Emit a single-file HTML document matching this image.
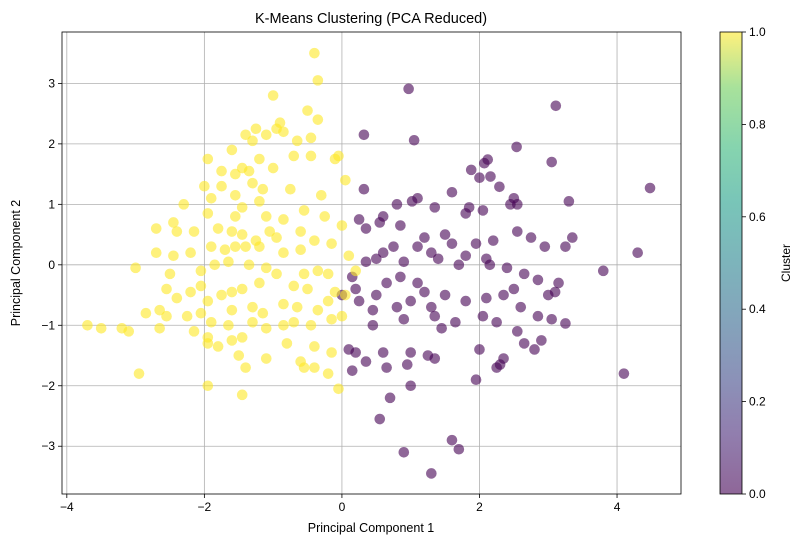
<!DOCTYPE html>
<html><head><meta charset="utf-8"><style>
body{margin:0;background:#fff;}
svg{font-family:"Liberation Sans","DejaVu Sans",sans-serif;}
</style></head><body>
<svg id="chart" width="802" height="547" xmlns="http://www.w3.org/2000/svg">
<defs><linearGradient id="vir" x1="0" y1="1" x2="0" y2="0">
<stop offset="0" stop-color="#440154"/><stop offset="0.13" stop-color="#482878"/><stop offset="0.25" stop-color="#3e4989"/><stop offset="0.38" stop-color="#31688e"/><stop offset="0.5" stop-color="#26828e"/><stop offset="0.63" stop-color="#1f9e89"/><stop offset="0.75" stop-color="#35b779"/><stop offset="0.88" stop-color="#6ece58"/><stop offset="1" stop-color="#fde725"/></linearGradient></defs>
<text x="371" y="23" font-size="14.5" text-anchor="middle">K-Means Clustering (PCA Reduced)</text>
<g id="grid"></g><g id="pts"></g><g id="axes"></g>
<text x="371" y="532" font-size="12.5" text-anchor="middle">Principal Component 1</text>
<text transform="translate(20,263) rotate(-90)" font-size="12.5" text-anchor="middle">Principal Component 2</text>
<rect x="720" y="32" width="22" height="462" fill="url(#vir)" opacity="0.6"/>
<rect x="720" y="32" width="22" height="462" fill="none" stroke="#000" stroke-width="0.8"/>
<g id="cb"></g>
<text transform="translate(790,263) rotate(-90)" font-size="12" text-anchor="middle">Cluster</text>
</svg>
<script>
const clusters=[0,1];
const xTicks=[-4,-2,0,2,4];
const yTicks=[-3,-2,-1,0,1,2,3];
const cbTicks=[0.0,0.2,0.4,0.6,0.8,1.0];
const purplePts=[[0.97,2.91],[3.11,2.63],[0.32,2.15],[1.05,2.06],[2.54,1.95],[2.12,1.74],[2.07,1.68],[1.88,1.57],[2.16,1.46],[2.0,1.44],[2.29,1.29],[3.05,1.70],[4.48,1.27],[3.3,1.05],[0.32,1.25],[1.1,1.1],[1.02,1.05],[0.8,1.0],[1.6,1.2],[1.85,0.95],[2.5,1.1],[2.45,1.0],[2.55,1.0],[1.8,0.85],[2.05,0.9],[1.35,0.95],[0.6,0.8],[0.55,0.7],[0.85,0.65],[1.2,0.45],[0.35,0.6],[0.25,0.75],[0.75,0.3],[1.1,0.3],[1.5,0.5],[1.95,0.35],[2.2,0.4],[2.55,0.55],[2.75,0.45],[2.95,0.3],[3.35,0.45],[3.25,0.3],[1.3,0.2],[0.6,0.2],[0.35,0.05],[0.5,0.1],[0.9,0.05],[1.7,0.0],[1.8,0.15],[2.1,0.1],[2.15,0.0],[1.6,0.35],[1.4,0.1],[2.4,-0.05],[2.65,-0.15],[2.85,-0.25],[3.0,-0.5],[3.1,-0.45],[3.15,-0.3],[2.5,-0.4],[2.35,-0.5],[2.1,-0.55],[2.6,-0.7],[2.05,-0.85],[1.8,-0.6],[1.5,-0.5],[1.3,-0.7],[1.0,-0.6],[0.8,-0.7],[0.5,-0.5],[0.25,-0.6],[0.45,-0.75],[0.65,-0.3],[0.85,-0.2],[1.1,-0.3],[1.2,-0.45],[0.2,-0.4],[0.0,-0.5],[0.15,-0.2],[0.45,-1.0],[0.9,-0.9],[1.35,-0.85],[1.45,-1.05],[1.65,-0.95],[2.25,-0.95],[2.55,-1.1],[2.85,-0.85],[3.05,-0.9],[3.25,-0.97],[2.65,-1.3],[2.8,-1.4],[2.9,-1.25],[1.35,-1.55],[0.6,-1.45],[0.65,-1.7],[0.2,-1.45],[0.35,-1.6],[0.15,-1.75],[1.0,-1.45],[1.25,-1.5],[2.0,-1.4],[2.35,-1.55],[2.3,-1.65],[2.25,-1.7],[1.95,-1.9],[0.95,-1.65],[0.7,-2.2],[0.55,-2.55],[1.0,-2.0],[1.6,-2.9],[1.7,-3.05],[0.9,-3.1],[1.3,-3.45],[3.8,-0.1],[4.3,0.2],[4.1,-1.8],[0.1,-1.4]];
const yellowPts=[[-0.4,3.5],[-0.35,3.05],[-1.0,2.8],[-0.5,2.55],[-0.35,2.4],[-0.9,2.35],[-0.95,2.25],[-0.85,2.2],[-1.25,2.25],[-1.1,2.15],[-1.3,2.05],[-1.4,2.15],[-0.65,2.05],[-0.45,2.1],[-1.95,1.75],[-1.6,1.9],[-1.2,1.75],[-0.45,1.8],[-0.7,1.8],[-0.1,1.75],[-0.05,1.8],[-1.45,1.6],[-1.35,1.55],[-1.55,1.5],[-1.75,1.55],[-1.0,1.6],[-1.3,1.35],[-1.75,1.3],[-1.15,1.25],[-2.0,1.3],[-1.9,1.1],[-1.55,1.15],[-1.2,1.05],[-0.75,1.25],[-0.3,1.15],[0.05,1.4],[-2.3,1.0],[-1.45,0.95],[-1.95,0.85],[-2.45,0.7],[-1.55,0.8],[-1.1,0.8],[-0.85,0.75],[-0.55,0.9],[-0.25,0.8],[0.0,0.65],[-2.7,0.6],[-2.4,0.55],[-2.15,0.55],[-1.8,0.6],[-1.6,0.55],[-1.45,0.5],[-1.25,0.4],[-1.05,0.55],[-0.95,0.45],[-0.6,0.55],[-0.4,0.4],[-0.15,0.35],[-2.7,0.2],[-2.45,0.15],[-2.2,0.2],[-1.9,0.3],[-1.7,0.25],[-1.55,0.3],[-1.4,0.3],[-1.2,0.3],[-0.85,0.2],[-0.6,0.25],[0.1,0.15],[-3.0,-0.05],[-2.5,-0.15],[-2.05,-0.1],[-1.85,0.0],[-1.65,0.05],[-1.35,0.0],[-1.1,-0.05],[-0.95,-0.15],[-0.55,-0.15],[-0.35,-0.1],[-0.2,-0.15],[0.2,-0.1],[-2.55,-0.4],[-2.2,-0.45],[-2.05,-0.35],[-1.95,-0.6],[-1.75,-0.5],[-1.6,-0.45],[-1.45,-0.4],[-1.2,-0.3],[-0.7,-0.35],[-0.5,-0.4],[-0.1,-0.45],[0.05,-0.5],[-2.4,-0.55],[-2.65,-0.75],[-2.85,-0.8],[-2.55,-0.85],[-2.25,-0.85],[-2.05,-0.8],[-1.9,-0.95],[-1.6,-0.75],[-1.3,-0.7],[-1.15,-0.8],[-0.85,-0.65],[-0.65,-0.7],[-0.35,-0.75],[-0.2,-0.6],[-3.7,-1.0],[-3.5,-1.05],[-3.2,-1.05],[-3.1,-1.1],[-2.65,-1.05],[-2.15,-1.1],[-1.95,-1.2],[-1.65,-1.0],[-1.3,-0.95],[-1.1,-1.05],[-0.85,-1.0],[-0.7,-0.95],[-0.45,-1.0],[-0.15,-0.9],[0.0,-0.85],[-1.95,-1.3],[-1.8,-1.35],[-1.6,-1.25],[-1.45,-1.2],[-0.8,-1.3],[-0.4,-1.35],[-0.15,-1.45],[-1.5,-1.5],[-1.1,-1.55],[-0.6,-1.6],[-0.4,-1.7],[-0.55,-1.7],[-1.4,-1.7],[-0.2,-1.8],[-2.95,-1.8],[-1.95,-2.0],[-1.45,-2.15],[-0.05,-2.05]];

const L=62,R=681,T=32,B=494;
const X0=-4.07,X1=4.93,Y0=-3.79,Y1=3.85;
const sx=v=>L+(v-X0)/(X1-X0)*(R-L);
const sy=v=>B-(v-Y0)/(Y1-Y0)*(B-T);
const cy=v=>B-v*(B-T);
const NS="http://www.w3.org/2000/svg";
function mk(tag,attrs,parent,txt){const e=document.createElementNS(NS,tag);for(const k in attrs)e.setAttribute(k,attrs[k]);if(txt!==undefined)e.textContent=txt;parent.appendChild(e);return e;}
const grid=document.getElementById('grid'),axes=document.getElementById('axes'),pts=document.getElementById('pts'),cb=document.getElementById('cb');
xTicks.forEach(t=>{const x=sx(t);
 const g=mk('line',{x1:x,x2:x,y1:T,y2:B,stroke:'#b0b0b0','stroke-width':0.8},grid);
 
 
 mk('line',{x1:x,x2:x,y1:B,y2:B+4,stroke:'#000','stroke-width':0.8},axes);
 const l=mk('text',{x:x,y:B+17,'font-size':12,'text-anchor':'middle'},axes,t<0?'−'+(-t):String(t));
 
 
});
yTicks.forEach(t=>{const y=sy(t);
 const g=mk('line',{x1:L,x2:R,y1:y,y2:y,stroke:'#b0b0b0','stroke-width':0.8},grid);
 
 
 mk('line',{x1:L-4,x2:L,y1:y,y2:y,stroke:'#000','stroke-width':0.8},axes);
 const l=mk('text',{x:L-7,y:y+4,'font-size':12,'text-anchor':'end'},axes,t<0?'−'+(-t):String(t));
 
 
});
const fr=mk('rect',{x:L,y:T,width:R-L,height:B-T,fill:'none',stroke:'#000','stroke-width':0.8},axes);


const colors=['#440154','#fde725'];
[purplePts,yellowPts].forEach((arr,i)=>{arr.forEach(p=>{
 const c=mk('circle',{cx:sx(p[0]),cy:sy(p[1]),r:5.3,fill:colors[clusters[i]],'fill-opacity':0.6},pts);
 
 
});});
cbTicks.forEach(t=>{const y=cy(t);
 mk('line',{x1:742,x2:746,y1:y,y2:y,stroke:'#000','stroke-width':0.8},cb);
 const l=mk('text',{x:749,y:y+4,'font-size':12},cb,t.toFixed(1));
 
 
});
</script>
</body></html>
